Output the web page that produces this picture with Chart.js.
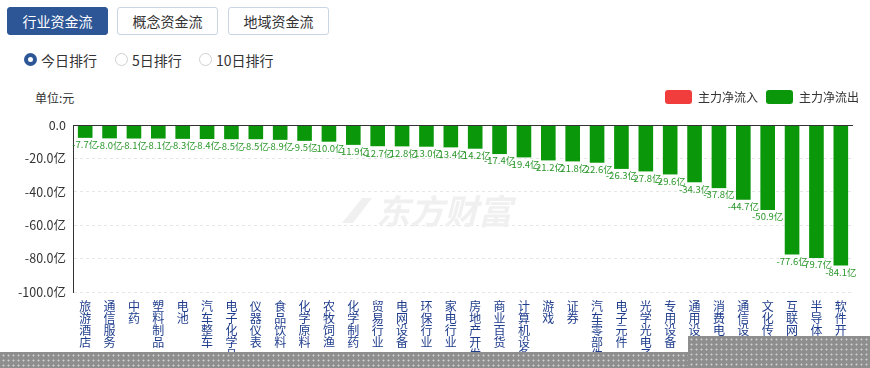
<!DOCTYPE html>
<html>
<head>
<meta charset="utf-8">
<script src="https://cdn.jsdelivr.net/npm/chart.js@4.4.1/dist/chart.umd.min.js"></script>
<style>
body{margin:0;width:870px;height:368px;position:relative;overflow:hidden;background:#fff;font-family:"Noto Sans CJK SC","Noto Sans",sans-serif;}
.tab{position:absolute;top:7px;height:28px;width:101px;box-sizing:border-box;border:1px solid #c9d4e4;border-radius:3px;font-size:14px;line-height:26px;text-align:center;color:#333;}
.tab.on{background:#2d5696;border-color:#2d5696;color:#fff;}
.rd{position:absolute;top:52px;height:16px;font-size:14px;line-height:16px;color:#333;}
.rd i{position:absolute;left:-17px;top:1px;width:13px;height:13px;box-sizing:border-box;border:1px solid #d0d0d0;border-radius:50%;}
.rd.on i{border:4px solid #2d5696;}
#unit{position:absolute;left:35px;top:89px;font-size:12px;color:#333;}
#wrap{position:absolute;left:0;top:80px;width:870px;height:288px;}
.mask{position:absolute;background:#8e8e8e radial-gradient(circle,#cfcfcf 0.8px,transparent 1.2px) 1px 1px/5px 5px;}
</style>
</head>
<body>
<div class="tab on" style="left:7px">行业资金流</div>
<div class="tab" style="left:117px">概念资金流</div>
<div class="tab" style="left:228px">地域资金流</div>
<div class="rd on" style="left:41px"><i></i>今日排行</div>
<div class="rd" style="left:132px"><i></i>5日排行</div>
<div class="rd" style="left:216px"><i></i>10日排行</div>
<div id="unit">单位:元</div>
<div id="wrap"><canvas id="chart"></canvas></div>
<div class="mask" style="left:0;top:352px;width:870px;height:16px"></div>
<div class="mask" style="left:688px;top:336px;width:182px;height:32px"></div>
<script>
// 行业名称
let industries = ["旅游酒店","通信服务","中药","塑料制品","电池","汽车整车","电子化学品","仪器仪表",
    "食品饮料","化学原料","农牧饲渔","化学制药","贸易行业","电网设备","环保行业","家电行业",
    "房地产开发","商业百货","计算机设备","游戏","证券","汽车零部件","电子元件","光学光电子",
    "专用设备","通用设备","消费电子","通信设备","文化传媒","互联网服务","半导体","软件开发"];

// 主力净流出 (亿)
let outflow = [-7.7,-8.0,-8.1,-8.1,-8.3,-8.4,-8.5,-8.5,-8.9,-9.5,-10.0,-11.9,-12.7,-12.8,-13.0,-13.4,
    -14.2,-17.4,-19.4,-21.2,-21.8,-22.6,-26.3,-27.8,-29.6,-34.3,-37.8,-44.7,-50.9,-77.6,-79.7,-84.1];

// 主力净流入 (今日无)
let inflow = industries.map(() => null);

let yTicks = [0, -20, -40, -60, -80, -100];

const RED = "#f23d3d";
const GREEN = "#0a970a";

// extra gap under the legend
const legendGap = {
    id: "legendGap",
    beforeInit(chart) {
        let fit = chart.legend.fit;
        chart.legend.fit = function () {
            fit.bind(chart.legend)();
            this.height += 11;
        };
    }
};

// labels drawn under each bar + zero line + watermark
const extras = {
    id: "extras",
    beforeDatasetsDraw(chart) {
        let ctx = chart.ctx;
        ctx.save();
        ctx.fillStyle = "#f0f0f0";
        ctx.font = "italic bold 34px 'Noto Sans CJK SC'";
        ctx.textBaseline = "middle";
        ctx.fillText("东方财富", 376, 131);
        ctx.beginPath();
        ctx.moveTo(342, 143); ctx.lineTo(362, 118); ctx.lineTo(372, 118); ctx.lineTo(353, 143);
        ctx.fill();
        ctx.restore();
    },
    afterDatasetsDraw(chart) {
        let ctx = chart.ctx;
        let y0 = chart.scales.y.getPixelForValue(0);
        ctx.save();
        ctx.strokeStyle = "#333";
        ctx.lineWidth = 1;
        ctx.beginPath();
        ctx.moveTo(chart.chartArea.left, Math.round(y0) + 0.5);
        ctx.lineTo(chart.chartArea.right, Math.round(y0) + 0.5);
        ctx.stroke();

        ctx.font = "9.5px 'Noto Sans CJK SC'";
        ctx.textAlign = "center";
        ctx.textBaseline = "top";
        ctx.fillStyle = "#2a962a";
        chart.getDatasetMeta(1).data.forEach((bar, i) => {
            let v = outflow[i];
            ctx.fillText(v.toFixed(1) + "亿", bar.x, bar.y + 2);
        });
        ctx.restore();
    }
};

new Chart(document.getElementById("chart"), {
    type: "bar",
    data: {
        labels: industries.map(s => s.split("")),
        datasets: [
            {label: "主力净流入", data: inflow, backgroundColor: RED},
            {label: "主力净流出", data: outflow, backgroundColor: GREEN}
        ]
    },
    options: {
        responsive: true,
        maintainAspectRatio: false,
        animation: false,
        barPercentage: 0.6,
        categoryPercentage: 1,
        layout: {padding: {top: 2, right: 3, bottom: 8, left: 0}},
        plugins: {
            legend: {
                align: "end",
                labels: {
                    boxWidth: 27, boxHeight: 14, useBorderRadius: true, borderRadius: 3,
                    color: "#333", font: {size: 12, family: "'Noto Sans CJK SC'"}, padding: 8
                }
            },
            tooltip: {enabled: false}
        },
        scales: {
            x: {
                stacked: true,
                grid: {display: false},
                border: {display: false},
                ticks: {
                    autoSkip: false, maxRotation: 0, padding: 0,
                    color: "#1f3d8c",
                    font: {size: 12, family: "'Noto Sans CJK SC'", lineHeight: 1}
                }
            },
            y: {
                stacked: true,
                min: -100, max: 0,
                afterBuildTicks: s => { s.ticks = yTicks.map(v => ({value: v})); },
                afterFit: s => { s.width = 73; },
                grid: {color: "#e6e6e6", drawTicks: false},
                border: {display: true, color: "#333", dash: [3, 3]},
                ticks: {
                    padding: 7, color: "#333",
                    font: {size: 12.5, family: "'Noto Sans CJK SC'"},
                    callback: v => v === 0 ? "0.0" : v.toFixed(1) + "亿"
                }
            },
            // empty strip on the right so the plot ends before the legend does
            pad: {
                position: "right",
                display: true,
                grid: {display: false},
                border: {display: false},
                ticks: {display: false},
                afterFit: s => { s.width = 14; }
            }
        }
    },
    plugins: [legendGap, extras]
});
</script>
</body>
</html>
